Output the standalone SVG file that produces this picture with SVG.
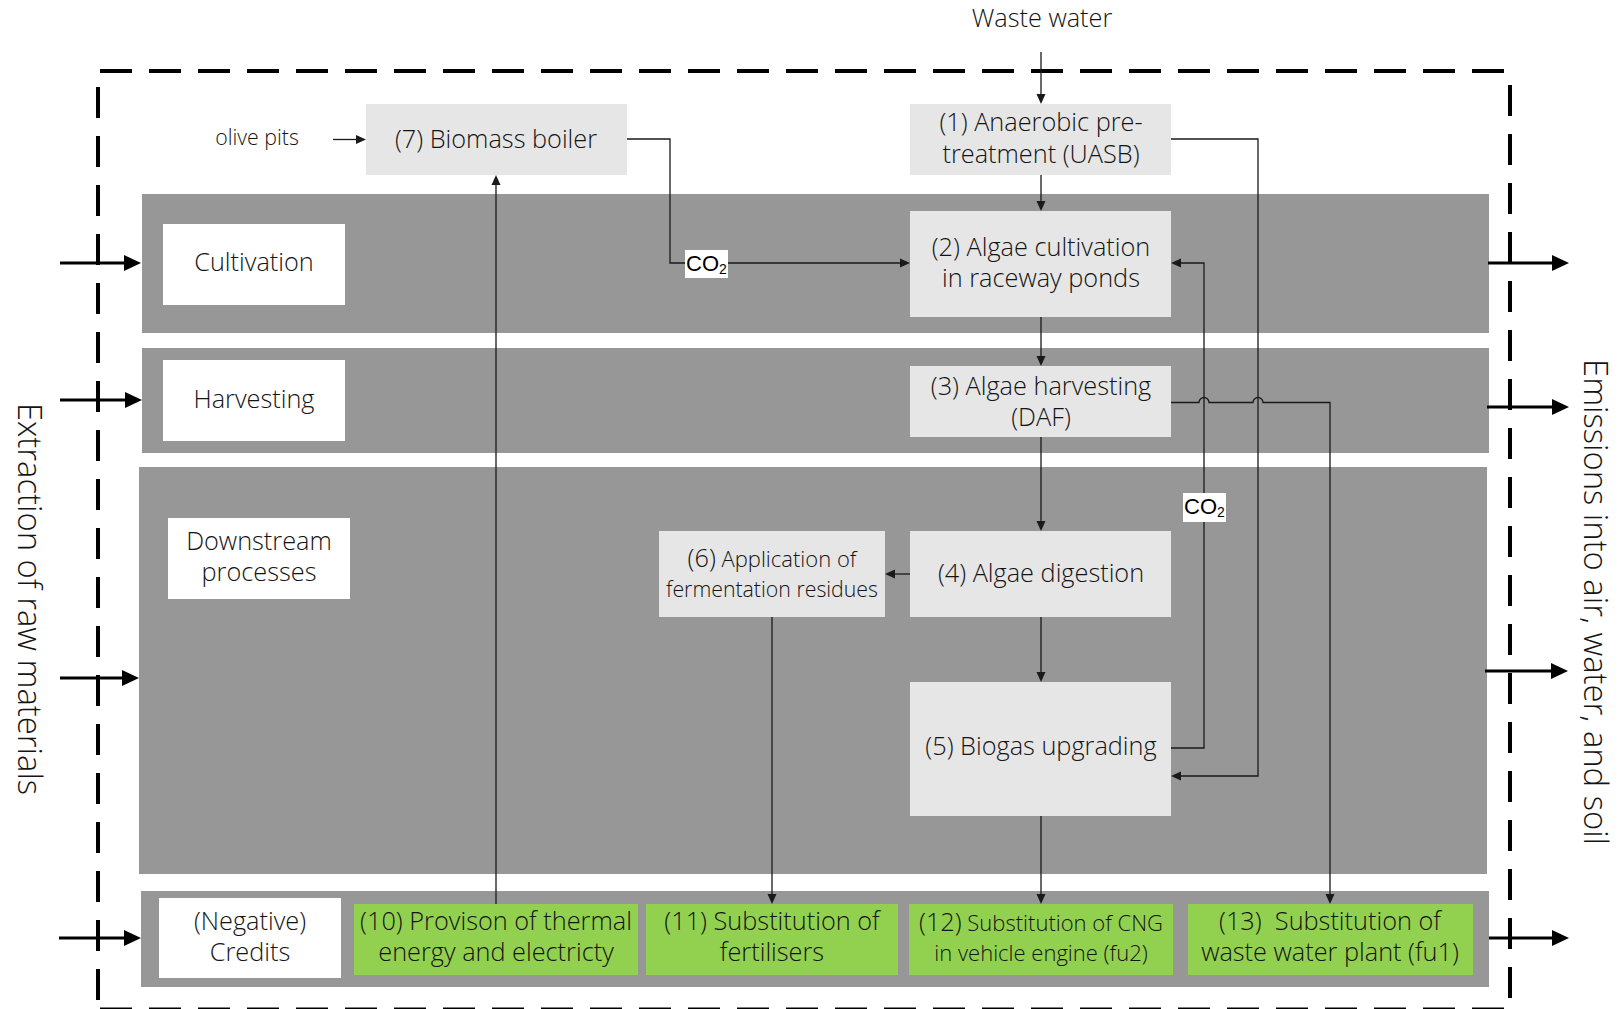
<svg xmlns="http://www.w3.org/2000/svg" width="1621" height="1009" viewBox="0 0 1621 1009">
<style>
  .band{fill:#979797}
  .proc{fill:#e6e6e6}
  .lab{fill:#ffffff}
  .green{fill:#92d050}
  .t{font-family:"Open Sans","Noto Sans","DejaVu Sans",sans-serif;font-weight:300;fill:#141414;text-anchor:middle}
  .f24{font-size:25.3px}
  .f21{font-size:22px}
  .f20{font-size:21.3px}
  .side{font-family:"Open Sans","Noto Sans","DejaVu Sans",sans-serif;font-weight:300;font-size:32.8px;fill:#141414;text-anchor:middle}
  .co{font-family:"Liberation Sans",Arial,sans-serif;font-size:22px;fill:#000}
  .thin{fill:none;stroke:#1a1a1a;stroke-width:1.3;marker-end:url(#ah)}
  .thick{fill:none;stroke:#000;stroke-width:3.2;marker-end:url(#ahb)}
  .dash{fill:none;stroke:#000;stroke-width:4}
</style>
<defs>
  <marker id="ah" markerUnits="userSpaceOnUse" orient="auto" refX="0.5" refY="0" markerWidth="12" markerHeight="10" overflow="visible">
    <path d="M0,-4.5 L10,0 L0,4.5 Z" fill="#1a1a1a"/>
  </marker>
  <marker id="ahb" markerUnits="userSpaceOnUse" orient="auto" refX="1" refY="0" markerWidth="18" markerHeight="18" overflow="visible">
    <path d="M0,-8 L17,0 L0,8 Z" fill="#000"/>
  </marker>
</defs>
<rect width="1621" height="1009" fill="#ffffff"/>

<!-- stage bands -->
<g id="bands">
  <rect class="band" x="142" y="194" width="1347" height="139"/>
  <rect class="band" x="142" y="348" width="1347" height="105"/>
  <rect class="band" x="139" y="467" width="1348" height="407"/>
  <rect class="band" x="141" y="891" width="1348" height="96"/>
</g>

<!-- system boundary -->
<g id="boundary">
  <path class="dash" d="M100,71 H1506" stroke-dasharray="32 17"/>
  <path class="dash" d="M98,87 V1000" stroke-dasharray="31 18"/>
  <path class="dash" d="M1510,85 V1000" stroke-dasharray="31 18"/>
  <path class="dash" d="M100,1009.5 H1506" stroke-dasharray="32 17"/>
</g>

<!-- stage labels -->
<g id="stage-cultivation">
  <rect class="lab" x="163" y="224" width="182" height="81"/>
  <text class="t f24" x="254" y="271">Cultivation</text>
</g>
<g id="stage-harvesting">
  <rect class="lab" x="163" y="360" width="182" height="81"/>
  <text class="t f24" x="254" y="408">Harvesting</text>
</g>
<g id="stage-downstream">
  <rect class="lab" x="168" y="518" width="182" height="81"/>
  <text class="t f24" x="259" y="550">Downstream</text>
  <text class="t f24" x="259" y="581">processes</text>
</g>
<g id="stage-credits">
  <rect class="lab" x="159" y="898" width="182" height="80"/>
  <text class="t f24" x="250" y="930">(Negative)</text>
  <text class="t f24" x="250" y="961">Credits</text>
</g>

<!-- external inputs -->
<g id="waste-water">
  <text class="t f24" x="1042" y="27">Waste water</text>
</g>
<g id="olive-pits">
  <text class="t f20" x="257" y="145">olive pits</text>
</g>

<!-- process nodes -->
<g id="n7">
  <rect class="proc" x="366" y="104" width="261" height="71"/>
  <text class="t f24" x="496" y="148">(7) Biomass boiler</text>
</g>
<g id="n1">
  <rect class="proc" x="910" y="104" width="261" height="71"/>
  <text class="t f24" x="1041" y="131">(1) Anaerobic pre-</text>
  <text class="t f24" x="1041" y="163">treatment (UASB)</text>
</g>
<g id="n2">
  <rect class="proc" x="910" y="211" width="261" height="106"/>
  <text class="t f24" x="1041" y="256">(2) Algae cultivation</text>
  <text class="t f24" x="1041" y="287">in raceway ponds</text>
</g>
<g id="n3">
  <rect class="proc" x="910" y="366" width="261" height="71"/>
  <text class="t f24" x="1041" y="395">(3) Algae harvesting</text>
  <text class="t f24" x="1041" y="426">(DAF)</text>
</g>
<g id="n4">
  <rect class="proc" x="910" y="531" width="261" height="86"/>
  <text class="t f24" x="1041" y="582">(4) Algae digestion</text>
</g>
<g id="n6">
  <rect class="proc" x="659" y="531" width="226" height="86"/>
  <text class="t f21" x="772" y="567"><tspan class="f24">(6)</tspan> Application of</text>
  <text class="t f20" x="772" y="597">fermentation residues</text>
</g>
<g id="n5">
  <rect class="proc" x="910" y="682" width="261" height="134"/>
  <text class="t f24" x="1041" y="755">(5) Biogas upgrading</text>
</g>

<!-- credit nodes -->
<g id="n10">
  <rect class="green" x="354" y="904" width="284" height="71"/>
  <text class="t f24" x="496" y="930">(10) Provison of thermal</text>
  <text class="t f24" x="496" y="961">energy and electricty</text>
</g>
<g id="n11">
  <rect class="green" x="646" y="904" width="252" height="71"/>
  <text class="t f24" x="772" y="930">(11) Substitution of</text>
  <text class="t f24" x="772" y="961">fertilisers</text>
</g>
<g id="n12">
  <rect class="green" x="909" y="904" width="264" height="71"/>
  <text class="t f21" x="1041" y="931"><tspan class="f24">(12)</tspan> Substitution of CNG</text>
  <text class="t f21" x="1041" y="961">in vehicle engine (fu2)</text>
</g>
<g id="n13">
  <rect class="green" x="1188" y="904" width="285" height="71"/>
  <text class="t f24" x="1330" y="930" xml:space="preserve">(13)  Substitution of</text>
  <text class="t f24" x="1330" y="961">waste water plant (fu1)</text>
</g>

<!-- connectors -->
<g id="connectors">
  <path class="thin" d="M1041,52 V94.5"/>
  <path class="thin" d="M333,139.5 H356.5"/>
  <path class="thin" d="M627,139 H670 V263 H900.5"/>
  <path class="thin" d="M1041,175 V201.5"/>
  <path class="thin" d="M1171,139 H1258 V776 H1180.5"/>
  <path class="thin" d="M1041,317 V356.5"/>
  <path class="thin" d="M1171,402.5 H1199 a5,5 0 0 1 10,0 H1253 a5,5 0 0 1 10,0 H1330 V894.5"/>
  <path class="thin" d="M1041,437 V521.5"/>
  <path class="thin" d="M910,574 H894.5"/>
  <path class="thin" d="M1041,617 V672.5"/>
  <path class="thin" d="M1171,748 H1204 V263 H1180.5"/>
  <path class="thin" d="M1041,816 V894.5"/>
  <path class="thin" d="M772,617 V894.5"/>
  <path class="thin" d="M496,904 V184.5"/>

  <path class="thick" d="M60,263 H125"/>
  <path class="thick" d="M60,400 H126"/>
  <path class="thick" d="M60,678 H123"/>
  <path class="thick" d="M59,938 H125"/>
  <path class="thick" d="M1488,263 H1553"/>
  <path class="thick" d="M1487,407 H1553"/>
  <path class="thick" d="M1485,671 H1552"/>
  <path class="thick" d="M1489,938 H1553"/>
</g>

<!-- flow labels -->
<g id="co2-boiler">
  <rect x="685" y="250" width="43" height="28" fill="#fff"/>
  <text class="co" x="686" y="271">CO<tspan font-size="14" dy="3">2</tspan></text>
</g>
<g id="co2-upgrading">
  <rect x="1183" y="493" width="43" height="29" fill="#fff"/>
  <text class="co" x="1184" y="514">CO<tspan font-size="14" dy="3">2</tspan></text>
</g>

<!-- side labels -->
<g id="side-input">
  <text class="side" transform="translate(18,599) rotate(90)">Extraction of raw materials</text>
</g>
<g id="side-output">
  <text class="side" transform="translate(1584,602) rotate(90)">Emissions into air, water, and soil</text>
</g>
</svg>
